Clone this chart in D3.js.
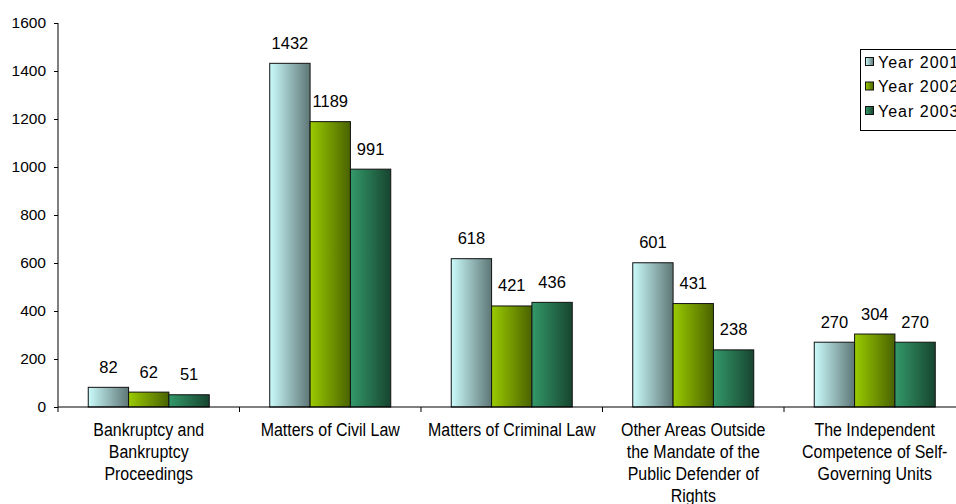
<!DOCTYPE html>
<html>
<head>
<meta charset="utf-8">
<script src="https://cdn.jsdelivr.net/npm/d3@7"></script>
<style>
  html, body { margin: 0; padding: 0; background: #fff; }
  svg { display: block; font-family: "Liberation Sans", Arial, sans-serif; }
</style>
</head>
<body>
<svg id="chart" width="956" height="504"></svg>
<script>
// Complaints by area, 2001–2003
const categories = [
  "Bankruptcy and Bankruptcy Proceedings",
  "Matters of Civil Law",
  "Matters of Criminal Law",
  "Other Areas Outside the Mandate of the Public Defender of Rights",
  "The Independent Competence of Self-Governing Units"
];
const categoryLines = [
  ["Bankruptcy and", "Bankruptcy", "Proceedings"],
  ["Matters of Civil Law"],
  ["Matters of Criminal Law"],
  ["Other Areas Outside", "the Mandate of the", "Public Defender of", "Rights"],
  ["The Independent", "Competence of Self-", "Governing Units"]
];
const seriesNames = ["Year 2001", "Year 2002", "Year 2003"];
const year2001 = [82, 1432, 618, 601, 270];
const year2002 = [62, 1189, 421, 431, 304];
const year2003 = [51, 991, 436, 238, 270];
const yTicks = [0, 200, 400, 600, 800, 1000, 1200, 1400, 1600];

const seriesValues = [year2001, year2002, year2003];
const gradientStops = [
  ["#cbfbfb", "#5e7676"],
  ["#9acb00", "#4a6200"],
  ["#33996a", "#17452f"]
];

const svg = d3.select("#chart");
const defs = svg.append("defs");
gradientStops.forEach((s, i) => {
  const g = defs.append("linearGradient")
    .attr("id", "grad" + i)
    .attr("x1", "0%").attr("x2", "100%").attr("y1", "0%").attr("y2", "0%");
  g.append("stop").attr("offset", "0%").attr("stop-color", s[0]);
  g.append("stop").attr("offset", "100%").attr("stop-color", s[1]);
});

const plotLeft = 58, plotRight = 965.5, plotTop = 23, plotBottom = 407;

const x0 = d3.scaleBand().domain(categories).range([plotLeft, plotRight]).padding(0);
const x1 = d3.scaleBand().domain(seriesNames).range([0, x0.bandwidth()])
  .paddingInner(0).paddingOuter(0.75);
const y = d3.scaleLinear().domain([0, 1600]).range([plotBottom, plotTop]);

// Y axis
const yAxis = svg.append("g").attr("transform", `translate(${plotLeft},0)`)
  .call(d3.axisLeft(y).tickValues(yTicks).tickSize(4).tickPadding(8).tickFormat(d3.format("d")));
yAxis.select(".domain").attr("d", `M0,${plotTop}V${plotBottom + 5}`);
yAxis.selectAll("line").attr("stroke", "#000");
yAxis.selectAll("path").attr("stroke", "#000");
yAxis.selectAll("text").attr("font-size", 15.5).attr("fill", "#000")
  .attr("font-family", "Liberation Sans, Arial, sans-serif");

// Bars
const groups = svg.append("g").selectAll("g")
  .data(categories)
  .join("g")
  .attr("transform", d => `translate(${x0(d)},0)`);

groups.each(function (cat, ci) {
  const g = d3.select(this);
  seriesNames.forEach((s, si) => {
    const v = seriesValues[si][ci];
    g.append("rect")
      .attr("x", x1(s))
      .attr("y", y(v))
      .attr("width", x1.bandwidth())
      .attr("height", y(0) - y(v))
      .attr("fill", `url(#grad${si})`)
      .attr("stroke", "#111")
      .attr("stroke-width", 1);
    g.append("text")
      .attr("x", x1(s) + x1.bandwidth() / 2)
      .attr("y", y(v) - 14.5)
      .attr("text-anchor", "middle")
      .attr("font-size", 16.5)
      .attr("fill", "#000")
      .text(v);
  });
});

// X axis
const xAxisG = svg.append("g");
xAxisG.append("line")
  .attr("x1", plotLeft).attr("x2", 956).attr("y1", plotBottom).attr("y2", plotBottom)
  .attr("stroke", "#000");
xAxisG.selectAll("line.tick")
  .data(categories.slice(1))
  .join("line")
  .attr("class", "tick")
  .attr("x1", d => x0(d)).attr("x2", d => x0(d))
  .attr("y1", plotBottom).attr("y2", plotBottom + 5)
  .attr("stroke", "#000");

// Category labels: condensed lettering, squeezed horizontally
const labels = xAxisG.selectAll("text.cat")
  .data(categories)
  .join("text")
  .attr("class", "cat")
  .attr("text-anchor", "middle")
  .attr("font-size", 19)
  .attr("fill", "#000")
  .attr("transform", d => `translate(${x0(d) + x0.bandwidth() / 2},${plotBottom + 29}) scale(0.84,1)`);
labels.each(function (d, i) {
  d3.select(this).selectAll("tspan")
    .data(categoryLines[i])
    .join("tspan")
    .attr("x", 0)
    .attr("dy", (t, j) => j === 0 ? 0 : 22)
    .text(t => t);
});

// Legend
const legend = svg.append("g");
legend.append("rect")
  .attr("x", 860.5).attr("y", 49.5).attr("width", 120).attr("height", 81)
  .attr("fill", "#fff").attr("stroke", "#000");
seriesNames.forEach((s, i) => {
  const cy = 62 + i * 24.5;
  legend.append("rect")
    .attr("x", 865.5).attr("y", cy - 4.5).attr("width", 8).attr("height", 8)
    .attr("fill", `url(#grad${i})`).attr("stroke", "#111");
  legend.append("text")
    .attr("x", 878).attr("y", cy + 5.5)
    .attr("font-size", 16).attr("letter-spacing", 1)
    .attr("fill", "#000")
    .text(s);
});
</script>
</body>
</html>
